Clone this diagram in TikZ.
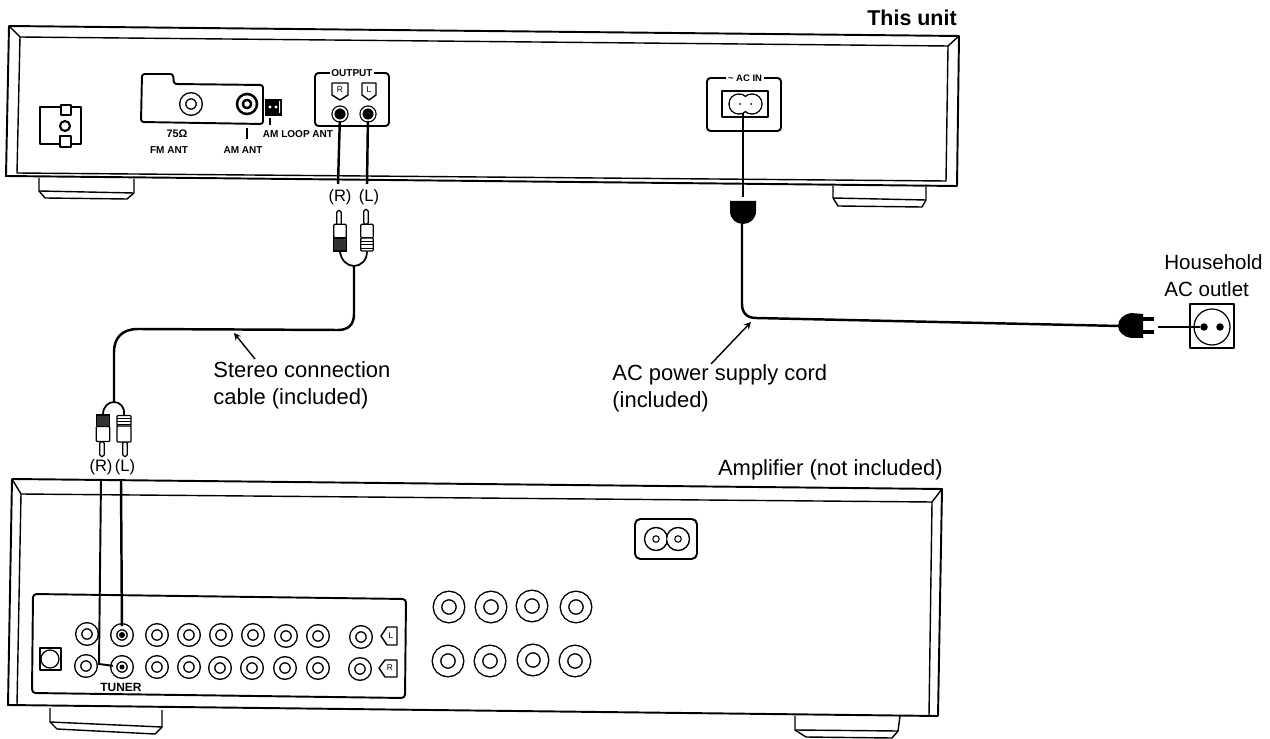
\documentclass[tikz,border=0pt]{standalone}
\usepackage{fontspec}
\setmainfont{Liberation Sans}
\tikzset{
    outline/.style={line width=1.1pt, line join=round},
    edge/.style={line width=.8pt, line join=round},
    cable/.style={line width=1.4pt},
    thinwire/.style={line width=.8pt},
    pointer/.style={-stealth, line width=.8pt},
    caption/.style={inner sep=0pt, font=\fontsize{12.5}{15.5}\selectfont, align=left},
    tiny label/.style={inner sep=0pt, font=\fontsize{5.7}{7}\selectfont\bfseries},
    tag label/.style={inner sep=0pt, font=\fontsize{4.8}{6}\selectfont},
    plug label/.style={inner sep=0pt, font=\fontsize{9.4}{11}\selectfont},
    jack/.style={circle, draw, line width=.8pt, double=white, double distance=2.6pt, minimum size=.33cm, inner sep=0pt},
    big jack/.style={circle, draw, line width=.8pt, double=white, double distance=4pt, minimum size=.46cm, inner sep=0pt},
    out jack/.style={circle, draw, line width=.7pt, fill=black, double=white, double distance=1pt, minimum size=.26cm, inner sep=0pt},
    inlet rim/.style={circle, draw, fill=white, line width=.8pt, inner sep=0pt},
    inlet hole/.style={circle, draw, fill=white, line width=.6pt, minimum size=.13cm, inner sep=0pt},
    plug body/.style={draw, fill=white, line width=.7pt, rounded corners=.5pt, minimum width=.25cm, minimum height=.27cm, inner sep=0pt},
    plug grip/.style={draw, fill=black!80, line width=.7pt, minimum width=.25cm, minimum height=.27cm, inner sep=0pt},
    plug pin/.style={draw, fill=white, line width=.7pt, rounded corners=1pt, minimum width=.09cm, minimum height=.3cm, inner sep=0pt},
}
\begin{document}
\begin{tikzpicture}[x=0.02cm, y=-0.02cm]
    \useasboundingbox (0, 0) rectangle (1270, 739);

    % This unit
    \node[caption, anchor=east, font=\fontsize{12.2}{15}\selectfont\bfseries] (unitLbl) at (957, 18) {This unit};
    \draw[edge] (39, 178) -- (39, 191) -- (45, 198) -- (127, 199) -- (134, 193) -- (134, 179);
    \draw[edge] (39, 191) -- (134, 193);
    \draw[edge] (833, 186) -- (833, 198) -- (838, 206) -- (922, 207) -- (926, 200) -- (926, 187);
    \draw[edge] (833, 198) -- (926, 200);
    \draw[outline] (9, 26) -- (959, 36) -- (957, 186) -- (6, 176) -- cycle;
    \draw[edge] (20, 37) -- (948, 46) -- (946, 181) -- (17, 173) -- cycle;
    \draw[edge] (9, 26) -- (20, 37);
    \draw[edge] (959, 36) -- (948, 46);

    % Left terminal
    \draw[outline] (40, 107) rectangle (81, 144);
    \draw[outline, fill=white] (61, 105) rectangle (71, 115);
    \draw[outline, fill=white] (60, 136) rectangle (71, 147);
    \node[circle, draw, fill=white, line width=1.2pt, minimum size=.2cm, inner sep=0pt] (gnd) at (65, 126) {};

    % Antenna plate
    \draw[outline, rounded corners=1.5pt] (142, 74) -- (173, 74) -- (174, 84) -- (263, 85) -- (263, 124) -- (141, 122) -- cycle;
    \node[jack] (fmJack) at (191, 104) {};
    \node[circle, draw, line width=1.5pt, double=white, double distance=1.8pt, minimum size=.28cm, inner sep=0pt] (amJack) at (247, 104) {};
    \draw[fill=black] (265, 99) rectangle (281, 115);
    \fill[white] (270, 107) circle (1.6) (276, 107) circle (1.6) (279, 101) rectangle (280, 113);
    \node[tiny label, font=\fontsize{6.2}{7}\selectfont\bfseries] (ohmLbl) at (177, 134) {75Ω};
    \node[tiny label] (fmLbl) at (169, 150) {FM ANT};
    \node[tiny label] (amLbl) at (243, 150) {AM ANT};
    \node[tiny label] (loopLbl) at (298, 134) {AM LOOP ANT};
    \draw[thinwire] (247, 128) -- (247, 139);
    \draw[line width=1pt] (270, 118) -- (270, 125);

    % Output box
    \draw[outline, rounded corners=2pt] (315, 73) rectangle (389, 126);
    \node[tiny label, fill=white, inner xsep=1pt] (outLbl) at (352, 73) {OUTPUT};
    \draw[edge] (332, 83) -- (348, 83) -- (348, 95) -- (340, 100) -- (332, 95) -- cycle;
    \draw[edge] (362, 83) -- (376, 83) -- (376, 95) -- (369, 100) -- (362, 95) -- cycle;
    \node[tag label] (outTagR) at (340, 90) {R};
    \node[tag label] (outTagL) at (369, 90) {L};
    \node[out jack] (outR) at (340, 114) {};
    \node[out jack] (outL) at (368, 114) {};

    % AC inlet of the unit
    \draw[outline, rounded corners=2pt] (707, 78) rectangle (781, 131);
    \node[tiny label, fill=white, inner xsep=1pt, font=\fontsize{5.4}{7}\selectfont\bfseries] (acLbl) at (745, 78) {\textasciitilde{} AC IN};
    \draw[edge] (722, 91) rectangle (768, 117);
    \node[inlet rim, minimum size=.4cm] (acL) at (739, 104) {};
    \node[inlet rim, minimum size=.4cm] (acR) at (752, 104) {};
    \fill[white] (739, 104) circle (9.2) (752, 104) circle (9.2);
    \fill (740, 104) circle (1) (751, 104) circle (1);

    % Stereo cable, upper plugs
    \node[plug label] (lblR) at (340, 197) {(R)};
    \node[plug label] (lblL) at (369, 197) {(L)};
    \coordinate (wireRa) at (338, 184);
    \coordinate (wireLa) at (367, 184);
    \draw[cable] (outR) -- (wireRa);
    \draw[cable] (outL) -- (wireLa);
    \node[plug pin] (pinRa) at (339, 218) {};
    \node[plug pin] (pinLa) at (366, 217) {};
    \node[plug body] (bodyRa) at (340, 231) {};
    \node[plug grip, minimum height=.26cm] (gripRa) at (340, 244.5) {};
    \node[plug body] (bodyLa) at (367, 231) {};
    \node[plug body, minimum height=.26cm] (gripLa) at (367, 244.5) {};
    \draw[line width=.5pt] (361, 241) -- (373, 241) (361, 244.5) -- (373, 244.5) (361, 248) -- (373, 248);
    \coordinate (forkA) at (354, 266);
    \coordinate (forkB) at (114, 402);
    \draw[line width=1pt] (gripRa.south) .. controls (341, 260) and (347, 266) .. (forkA) .. controls (361, 266) and (367, 260) .. (gripLa.south);

    % Stereo cable, run
    \draw[cable] (forkA) -- (354, 314) .. controls (354, 325) and (348, 330) .. (338, 330) -- (138, 329) .. controls (122, 329) and (114, 338) .. (114, 352) -- (forkB);
    \node[caption, anchor=north west] (stereoLbl) at (213, 361) {Stereo connection\\cable (included)};
    \coordinate (stereoTail) at (255, 359);
    \coordinate (stereoTip) at (234, 333);
    \draw[pointer] (stereoTail) -- (stereoTip);

    % Stereo cable, lower plugs
    \node[plug pin] (pinRb) at (102, 449) {};
    \node[plug pin] (pinLb) at (125, 449) {};
    \node[plug grip, minimum width=.27cm, minimum height=.24cm] (gripRb) at (103, 421) {};
    \node[plug body, minimum width=.27cm, minimum height=.3cm] (bodyRb) at (103, 434) {};
    \node[plug body, minimum width=.28cm, minimum height=.22cm] (gripLb) at (124, 421) {};
    \node[plug body, minimum width=.28cm, minimum height=.32cm] (bodyLb) at (124, 434) {};
    \draw[line width=.5pt] (117, 418) -- (131, 418) (117, 421) -- (131, 421) (117, 424) -- (131, 424);
    \draw[line width=1pt] (gripRb.north) .. controls (103, 407) and (108, 402) .. (forkB) .. controls (120, 402) and (125, 407) .. (gripLb.north);
    \node[plug label] (lblRb) at (101, 467) {(R)};
    \node[plug label] (lblLb) at (125, 467) {(L)};

    % Power cord
    \node[inner sep=0pt, minimum size=0pt] (cordStub) at (743, 197) {};
    \draw[thinwire] (743, 113) -- (cordStub);
    \draw[line width=1.6pt] (743, 113) -- (743, 118);
    \fill (730, 201) -- (756, 201) -- (756, 211) .. controls (756, 219) and (750, 224) .. (743, 224) .. controls (736, 224) and (730, 219) .. (730, 211) -- cycle;
    \coordinate (cordTop) at (742, 224);
    \coordinate (cordEnd) at (1120, 326);
    \draw[cable] (cordTop) -- (742, 304) .. controls (742, 313) and (747, 318) .. (756, 318) -- (cordEnd);
    \fill (1143, 314) -- (1131, 313) .. controls (1124, 314) and (1118, 319) .. (1118, 326) .. controls (1118, 332) and (1124, 337) .. (1131, 338) -- (1143, 338) -- cycle;
    \draw[line width=1.8pt] (1143, 319) -- (1154, 319) (1143, 332) -- (1154, 332);
    \node[caption, anchor=west] (acCordLbl) at (612, 388) {AC power supply cord\\(included)};
    \coordinate (acTail) at (711, 364);
    \coordinate (acTip) at (751, 322);
    \draw[pointer] (acTail) -- (acTip);

    % Wall outlet
    \node[caption, anchor=west, font=\fontsize{11.7}{15.5}\selectfont] (outletLbl) at (1164, 276) {Household\\AC outlet};
    \draw[edge] (1190, 304) rectangle (1234, 348);
    \node[circle, draw, line width=.7pt, minimum size=.72cm, inner sep=0pt] (outletRim) at (1212, 327) {};
    \node[circle, fill=black, minimum size=.15cm, inner sep=0pt] (holeL) at (1204, 327) {};
    \node[circle, fill=black, minimum size=.15cm, inner sep=0pt] (holeR) at (1220, 327) {};
    \coordinate (plugTip) at (1158, 327);
    \draw[thinwire] (plugTip) -- (holeL);

    % Amplifier
    \node[caption, anchor=east] (ampLbl) at (943, 470) {Amplifier (not included)};
    \draw[edge] (50, 708) -- (50, 722) -- (57, 729) -- (155, 734) -- (162, 727) -- (162, 710);
    \draw[edge] (50, 722) -- (162, 727);
    \draw[edge] (795, 716) -- (795, 730) -- (806, 737) -- (892, 738) -- (898, 731) -- (900, 716);
    \draw[edge] (795, 730) -- (898, 731);
    \draw[outline] (12, 479) -- (942, 489) -- (938, 716) -- (8, 705) -- cycle;
    \draw[edge] (17, 705) -- (21, 494) -- (932, 502) -- (929, 715);
    \draw[edge] (12, 479) -- (21, 494);
    \draw[edge] (942, 489) -- (932, 502);

    % Amplifier inlet
    \draw[outline, rounded corners=3pt] (635, 519) rectangle (697, 559);
    \node[inlet rim, minimum size=.46cm] (ampInL) at (656, 539) {};
    \node[inlet rim, minimum size=.46cm] (ampInR) at (678, 539) {};
    \fill[white] (656, 539) circle (10.3) (678, 539) circle (10.3);
    \node[inlet hole] (ampHoleL) at (656, 539) {};
    \node[inlet hole] (ampHoleR) at (678, 539) {};

    % Speaker terminals
    \node[big jack] (spk1) at (449, 607) {};
    \node[big jack] (spk2) at (491, 607) {};
    \node[big jack] (spk3) at (532, 606) {};
    \node[big jack] (spk4) at (576, 607) {};
    \node[big jack] (spk5) at (448, 661) {};
    \node[big jack] (spk6) at (490, 661) {};
    \node[big jack] (spk7) at (533, 660) {};
    \node[big jack] (spk8) at (575, 661) {};

    % Input panel
    \draw[outline, rounded corners=2pt] (33, 594) -- (406, 599) -- (405, 698) -- (32, 693) -- cycle;
    \draw[outline] (40, 648) rectangle (61, 670);
    \node[circle, draw, line width=.7pt, minimum size=.36cm, inner sep=0pt] (phono) at (50, 659) {};
    \node[jack] (up1) at (87, 634) {};
    \node[jack] (up2) at (122, 635) {};
    \node[jack] (up3) at (157, 635) {};
    \node[jack] (up4) at (189, 635) {};
    \node[jack] (up5) at (221, 635) {};
    \node[jack] (up6) at (253, 635) {};
    \node[jack] (up7) at (286, 636) {};
    \node[jack] (up8) at (318, 636) {};
    \node[jack] (up9) at (361, 637) {};
    \node[jack] (lo1) at (86, 666) {};
    \node[jack] (lo2) at (122, 667) {};
    \node[jack] (lo3) at (157, 667) {};
    \node[jack] (lo4) at (189, 667) {};
    \node[jack] (lo5) at (220, 668) {};
    \node[jack] (lo6) at (252, 668) {};
    \node[jack] (lo7) at (285, 668) {};
    \node[jack] (lo8) at (318, 668) {};
    \node[jack] (lo9) at (360, 669) {};
    \draw[edge] (397, 627) -- (387, 627) -- (381, 636) -- (387, 645) -- (397, 645) -- cycle;
    \draw[edge] (397, 660) -- (385, 660) -- (379, 668) -- (385, 677) -- (397, 677) -- cycle;
    \node[tag label] (tagL) at (391, 636) {L};
    \node[tag label] (tagR) at (390, 668) {R};
    \node[tiny label, font=\fontsize{6.8}{8}\selectfont\bfseries] (tunerLbl) at (121, 687) {TUNER};

    % Wires into the panel
    \coordinate (wireRb) at (101, 480);
    \coordinate (wireLb) at (121, 480);
    \coordinate (wireBend) at (99, 664);
    \draw[line width=1.1pt] (wireRb) -- (wireBend) -- (lo2);
    \draw[cable] (wireLb) -- (up2);
    \fill (up2) circle (3);
    \fill (lo2) circle (2.5);
\end{tikzpicture}
\end{document}
